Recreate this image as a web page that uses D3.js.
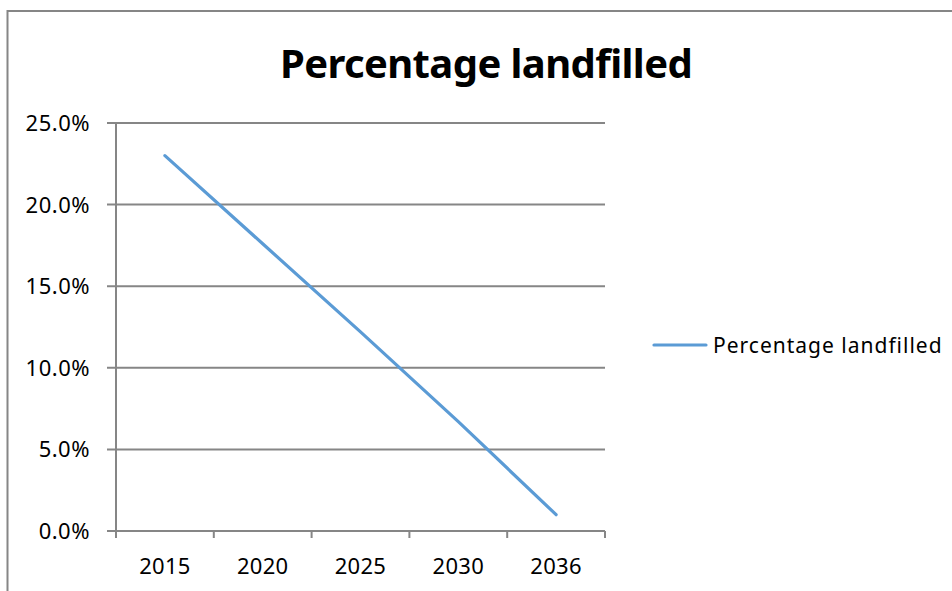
<!DOCTYPE html>
<html>
<head>
<meta charset="utf-8">
<script src="https://cdn.jsdelivr.net/npm/d3@7"></script>
<style>
    body { margin: 0; background: #fff; }
    text { font-family: "Noto Sans", sans-serif; fill: #000; }
</style>
</head>
<body>
<svg id="drawing_region"></svg>
<script>
const years = ["2015", "2020", "2025", "2030", "2036"];
const landfilled = [0.230, 0.176, 0.122, 0.067, 0.010];
const y_ticks = [0, 0.05, 0.10, 0.15, 0.20, 0.25];
const title_text = "Percentage landfilled";
const series_name = "Percentage landfilled";

class LineChart {

    constructor( config ) {
        this.config = {
            parent: config.parent,
            width: config.width || 952,
            height: config.height || 591,
            margin: config.margin || {top:123, right:347, bottom:60, left:116}
        }
        this.init();
    }

    init() {
        let self = this;

        self.svg = d3.select( self.config.parent )
            .attr('width', self.config.width)
            .attr('height', self.config.height);

        // chart area border (runs off the right and bottom edges)
        self.svg.append('rect')
            .attr('x', 7.5)
            .attr('y', 11)
            .attr('width', 1000)
            .attr('height', 1000)
            .attr('fill', 'none')
            .attr('stroke', '#868686')
            .attr('stroke-width', 2);

        self.chart = self.svg.append('g')
            .attr('transform', `translate(${self.config.margin.left}, ${self.config.margin.top})`);

        self.inner_width = self.config.width - self.config.margin.left - self.config.margin.right;
        self.inner_height = self.config.height - self.config.margin.top - self.config.margin.bottom;

        self.xscale = d3.scaleBand()
            .domain( years )
            .range( [0, self.inner_width] );

        self.yscale = d3.scaleLinear()
            .domain( [0, 0.25] )
            .range( [self.inner_height, 0] );

        self.svg.append('text')
            .attr('x', 486)
            .attr('y', 78)
            .attr('text-anchor', 'middle')
            .attr('font-size', 40)
            .attr('font-weight', 'bold')
            .attr('letter-spacing', -0.6)
            .text( title_text );
    }

    render() {
        let self = this;
        const grey = '#868686';

        // gridlines with a short tick to the left
        self.chart.append('g')
            .selectAll('line')
            .data( y_ticks )
            .join('line')
            .attr('x1', -9)
            .attr('x2', self.inner_width)
            .attr('y1', d => self.yscale(d))
            .attr('y2', d => self.yscale(d))
            .attr('stroke', grey)
            .attr('stroke-width', 2);

        // y axis line
        self.chart.append('line')
            .attr('x1', 0).attr('x2', 0)
            .attr('y1', self.yscale(0.25)).attr('y2', self.yscale(0))
            .attr('stroke', grey)
            .attr('stroke-width', 2);

        self.chart.append('g')
            .selectAll('text')
            .data( y_ticks )
            .join('text')
            .attr('x', -26)
            .attr('y', d => self.yscale(d) + 8)
            .attr('text-anchor', 'end')
            .attr('font-size', 22)
            .attr('letter-spacing', 0.5)
            .text( d => d3.format('.1%')(d) );

        // x axis ticks on the band edges
        const edges = years.map( d => self.xscale(d) ).concat( [self.inner_width] );
        self.chart.append('g')
            .selectAll('line')
            .data( edges )
            .join('line')
            .attr('x1', d => d).attr('x2', d => d)
            .attr('y1', self.inner_height)
            .attr('y2', self.inner_height + 7)
            .attr('stroke', grey)
            .attr('stroke-width', 2);

        self.chart.append('g')
            .selectAll('text')
            .data( years )
            .join('text')
            .attr('x', d => self.xscale(d) + self.xscale.bandwidth() / 2)
            .attr('y', self.inner_height + 43)
            .attr('text-anchor', 'middle')
            .attr('font-size', 22)
            .attr('letter-spacing', 0.3)
            .text( d => d );

        const line = d3.line()
            .x( (d, i) => self.xscale( years[i] ) + self.xscale.bandwidth() / 2 )
            .y( d => self.yscale( d ) );

        self.chart.append('path')
            .datum( landfilled )
            .attr('d', line)
            .attr('fill', 'none')
            .attr('stroke', '#5b9bd5')
            .attr('stroke-width', 3.2)
            .attr('stroke-linecap', 'round')
            .attr('stroke-linejoin', 'round');

        // legend
        const legend = self.svg.append('g');
        legend.append('line')
            .attr('x1', 654).attr('x2', 706)
            .attr('y1', 345).attr('y2', 345)
            .attr('stroke', '#5b9bd5')
            .attr('stroke-width', 3.2)
            .attr('stroke-linecap', 'round');
        legend.append('text')
            .attr('x', 713)
            .attr('y', 353)
            .attr('font-size', 21)
            .attr('letter-spacing', 1)
            .text( series_name );
    }
}

const chart = new LineChart( { parent: '#drawing_region' } );
chart.render();
</script>
</body>
</html>
